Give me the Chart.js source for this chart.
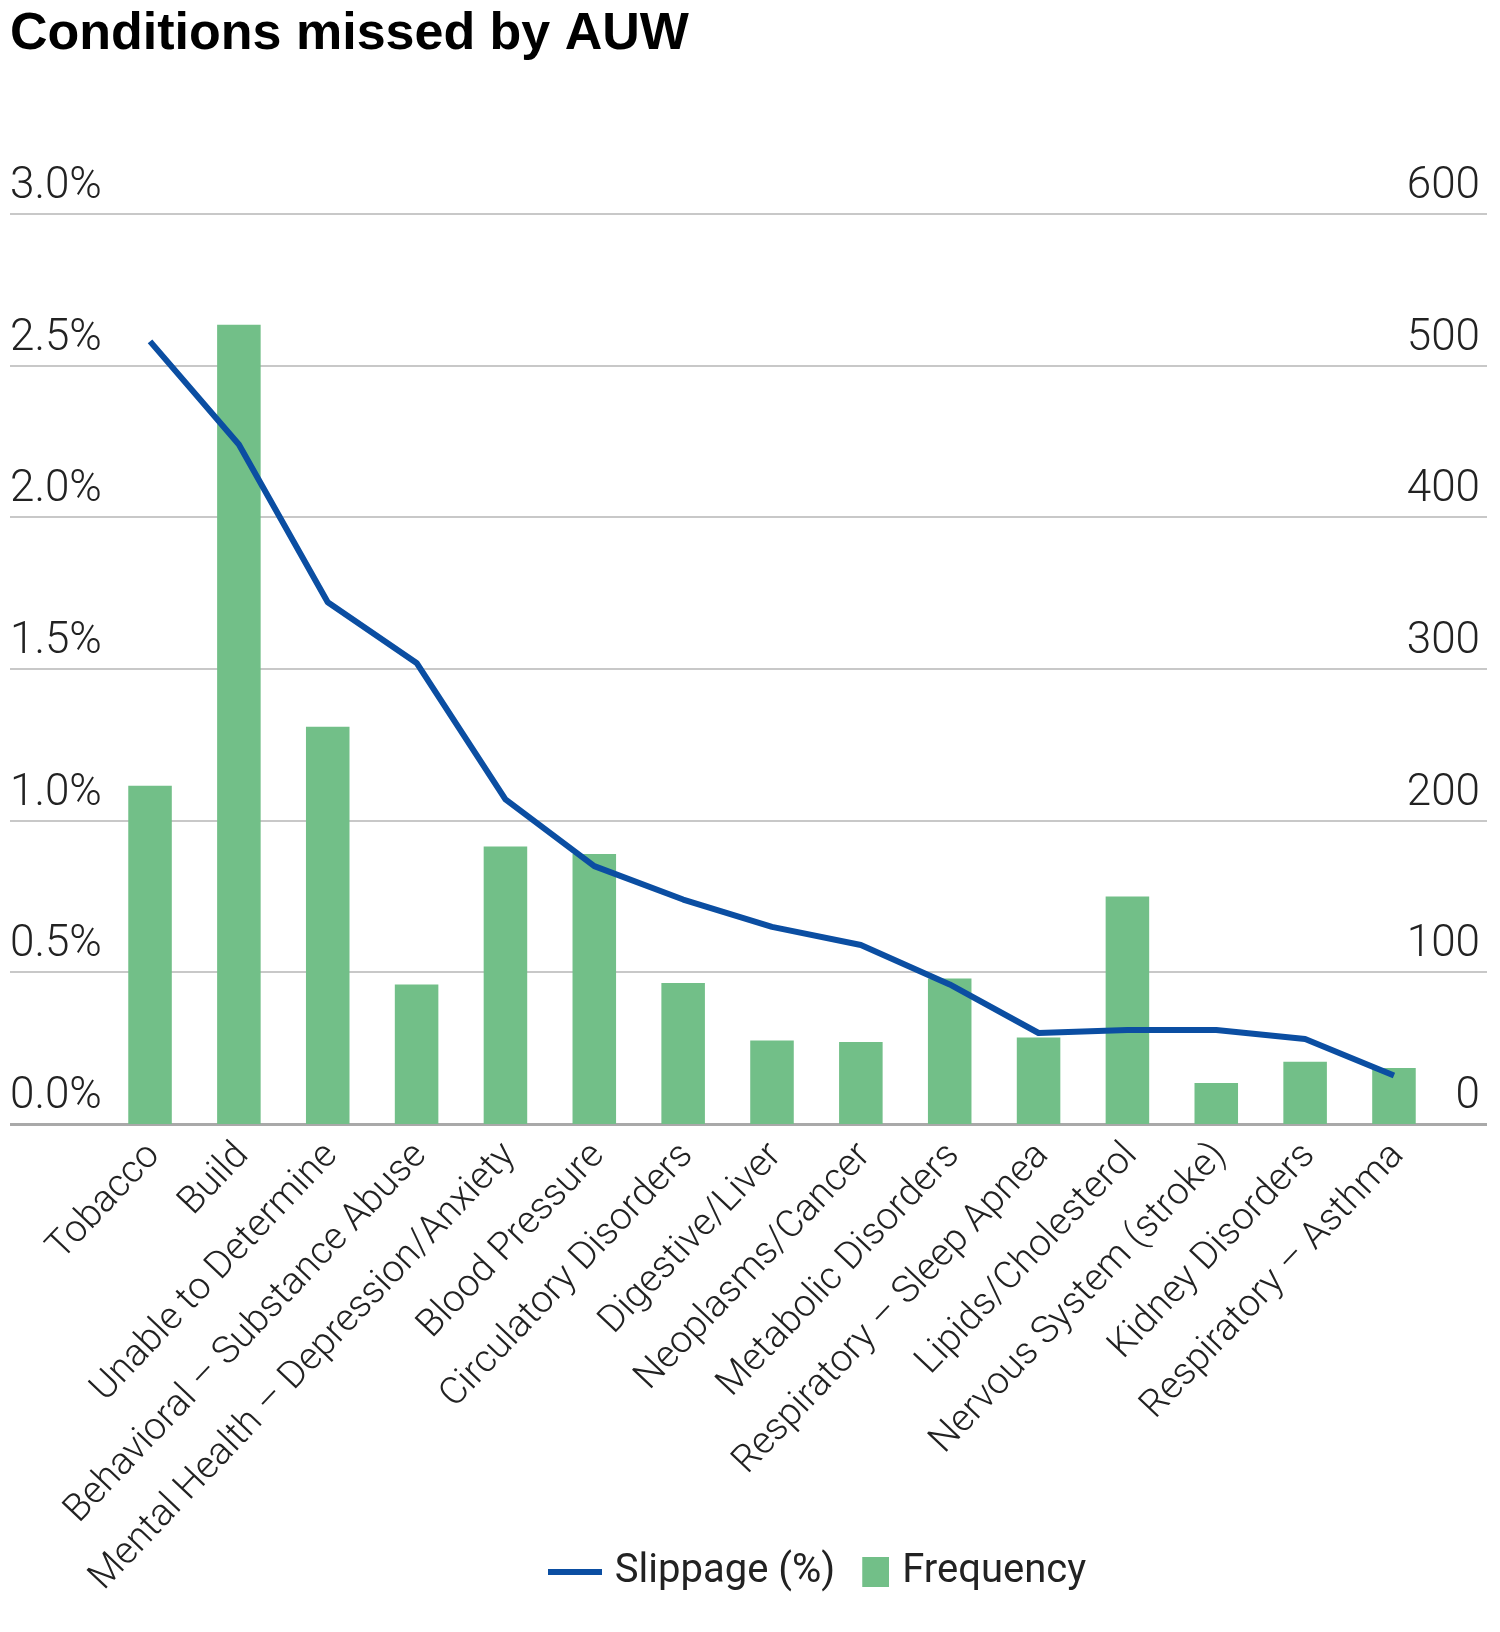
<!DOCTYPE html>
<html>
<head>
<meta charset="utf-8">
<title>Conditions missed by AUW</title>
<script src="https://cdn.jsdelivr.net/npm/chart.js@4.4.1/dist/chart.umd.min.js"></script>
<style>
  html, body { margin: 0; padding: 0; background: #fff; }
</style>
</head>
<body>
<canvas id="chart" width="1500" height="1632"></canvas>
<script>
const categories = [
  'Tobacco',
  'Build',
  'Unable to Determine',
  'Behavioral – Substance Abuse',
  'Mental Health – Depression/Anxiety',
  'Blood Pressure',
  'Circulatory Disorders',
  'Digestive/Liver',
  'Neoplasms/Cancer',
  'Metabolic Disorders',
  'Respiratory – Sleep Apnea',
  'Lipids/Cholesterol',
  'Nervous System (stroke)',
  'Kidney Disorders',
  'Respiratory – Asthma',
];

// bars, right axis
const frequency = [223, 527, 262, 92, 183, 178, 93, 55, 54, 96, 57, 150, 27, 41, 37];

// line, left axis (%)
const slippage = [2.58, 2.24, 1.72, 1.52, 1.07, 0.85, 0.74, 0.65, 0.59, 0.46, 0.30, 0.31, 0.31, 0.28, 0.16];

const pctTicks = [0, 0.5, 1, 1.5, 2, 2.5, 3];
const countTicks = [0, 100, 200, 300, 400, 500, 600];

const blue = '#0b4ea2';
const green = '#72bf88';
const tickFont = { family: 'Roboto, "Liberation Sans", sans-serif', size: 44, weight: 300 };
const labelFont = { family: 'Roboto, "Liberation Sans", sans-serif', size: 38, weight: 300 };

// the category range sits inside the gridlines, so x is a linear index scale
const xMin = -1.576;
const xMax = 15.047;

// legend markers: drawn at the right end of a 54px wide canvas
function swatch(color, w, h, x0, rw, rh) {
  const c = document.createElement('canvas');
  c.width = w;
  c.height = h;
  const g = c.getContext('2d');
  g.fillStyle = color;
  g.fillRect(x0, 0, rw, rh);
  return c;
}
const swatches = [swatch(blue, 54, 6, 0, 54, 6), swatch(green, 54, 30, 27, 27, 30)];

// legend sits right of centre in the original
const legendShift = {
  id: 'legendShift',
  afterLayout(chart) {
    chart.legend.left += 72;
    chart.legend.right += 72;
  },
};

new Chart(document.getElementById('chart'), {
  type: 'bar',
  data: {
    datasets: [
      {
        type: 'line',
        label: 'Slippage (%)',
        data: slippage.map((v, i) => ({ x: i, y: v })),
        yAxisID: 'y',
        borderColor: blue,
        backgroundColor: blue,
        borderWidth: 6,
        borderJoinStyle: 'round',
        pointRadius: 0,
        tension: 0,
        order: 0,
      },
      {
        label: 'Frequency',
        data: frequency.map((v, i) => ({ x: i, y: v })),
        yAxisID: 'y1',
        backgroundColor: green,
        barPercentage: 0.49,
        categoryPercentage: 1,
        order: 1,
      },
    ],
  },
  plugins: [legendShift],
  options: {
    responsive: false,
    animation: false,
    devicePixelRatio: 1,
    layout: { padding: { left: 10, right: 13, top: 0, bottom: 30 } },
    plugins: {
      title: {
        display: true,
        text: 'Conditions missed by AUW',
        align: 'start',
        color: '#000',
        font: { family: '"Liberation Sans", Arial, sans-serif', size: 52, weight: 'bold' },
        padding: { top: 3, bottom: 148.6 },
      },
      legend: {
        position: 'bottom',
        labels: {
          color: '#222',
          font: { family: 'Roboto, "Liberation Sans", sans-serif', size: 40 },
          usePointStyle: true,
          pointStyleWidth: 40,
          boxHeight: 30,
          padding: 7,
          generateLabels(chart) {
            const items = Chart.defaults.plugins.legend.labels.generateLabels(chart);
            items.forEach((it) => { it.pointStyle = swatches[it.datasetIndex]; });
            return items;
          },
        },
      },
      tooltip: { enabled: false },
    },
    scales: {
      x: {
        type: 'linear',
        min: xMin,
        max: xMax,
        offset: false,
        grid: { display: false },
        border: { display: false },
        afterBuildTicks(axis) {
          axis.ticks = categories.map((c, i) => ({ value: i }));
        },
        afterFit(axis) {
          // long labels run down beside the legend, so keep the axis short and unclipped
          axis.height = 421;
          axis._computeLabelArea = () => null;
        },
        ticks: {
          autoSkip: false,
          minRotation: 46.5,
          maxRotation: 46.5,
          padding: 2,
          labelOffset: 4,
          color: '#222',
          font: labelFont,
          callback: (v) => categories[v] ?? '',
        },
      },
      y: {
        position: 'left',
        min: 0,
        max: 3,
        afterBuildTicks(axis) {
          axis.ticks = pctTicks.map((v) => ({ value: v }));
        },
        grid: {
          drawTicks: false,
          color: (ctx) => (ctx.tick && ctx.tick.value === 0 ? '#a9a9a9' : '#c8c8c8'),
          lineWidth: (ctx) => (ctx.tick && ctx.tick.value === 0 ? 3 : 2),
        },
        border: { display: false },
        ticks: {
          mirror: true,
          padding: 0,
          labelOffset: -27,
          color: '#222',
          font: tickFont,
          callback: (v) => v.toFixed(1) + '%',
        },
      },
      y1: {
        position: 'right',
        min: 0,
        max: 600,
        afterBuildTicks(axis) {
          axis.ticks = countTicks.map((v) => ({ value: v }));
        },
        grid: { display: false, drawTicks: false },
        border: { display: false },
        ticks: {
          mirror: true,
          padding: -7,
          labelOffset: -27,
          color: '#222',
          font: tickFont,
        },
      },
    },
  },
});
</script>
</body>
</html>
